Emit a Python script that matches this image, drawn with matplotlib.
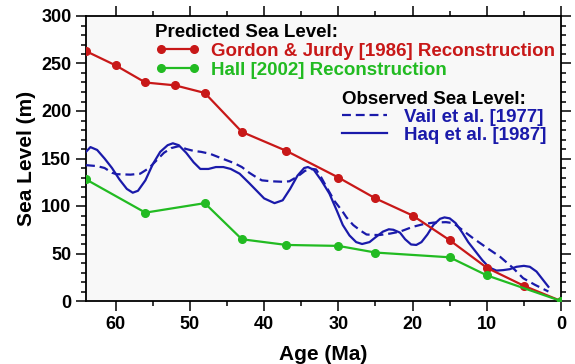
import matplotlib
matplotlib.use("Agg")
import matplotlib.pyplot as plt
from matplotlib.lines import Line2D
from matplotlib.ticker import MultipleLocator

plt.rcParams['font.family'] = ['Liberation Sans', 'DejaVu Sans']
plt.rcParams['font.weight'] = 'bold'

# Gordon & Jurdy [1986] reconstruction
gj_age = [64, 60, 56, 52, 48, 43, 37, 30, 25, 20, 15, 10, 5, 0]
gj_sl = [263, 248, 230, 227, 219, 178, 158, 130, 108, 90, 64, 35, 16, 0]

# Hall [2002] reconstruction
hall_age = [64, 56, 48, 43, 37, 30, 25, 15, 10, 0]
hall_sl = [128, 93, 103, 65, 59, 58, 51, 46, 27, 0]

# Vail et al. [1977]
vail_age = [64, 62.5, 61.5, 60.5, 59.9, 58, 56.7, 55.5, 54.5, 53.5, 52.5, 51.5,
            50.5, 49.5, 48.5, 47.3, 46, 45, 44, 43, 42, 41, 40.3, 39, 37.5,
            36.6, 35.5, 34.5, 33.5, 33, 32.3, 31.6, 30.5, 29.5, 28.9, 28, 27,
            26.2, 25, 24.4, 23, 21.7, 20, 18.5, 17.2, 15.5, 14.5, 13.5, 12, 10,
            8.2, 6.5, 5.1, 3.5, 1.7]
vail_sl = [143, 142, 140, 135, 133.5, 133, 134, 140, 148, 156, 161, 163,
           160, 158, 157, 155, 151, 148, 145, 141, 135, 130, 127, 126, 125.5,
           126, 131, 137, 139, 138.5, 130, 120, 105, 95, 88, 80, 74,
           70, 69.5, 69.5, 71, 73, 78, 81, 82.5, 83, 82, 76, 67, 56,
           46.5, 35, 24, 17, 10]

# Haq et al. [1987]
haq_age = [64, 63.4, 62.5, 61.5, 60.5, 59.5, 58.5, 57.7, 57.0, 56.0, 55.0, 54.0,
           53.0, 52.3, 51.5, 50.5, 49.5, 48.6, 47.5, 46.5, 45.5, 44.5, 43.3, 42,
           41, 40, 38.6, 37.5, 36.5, 35.5, 34.6, 34.1, 33.3, 32.3, 31.2, 30.2,
           29.4, 28.5, 27.6, 26.8, 25.8, 25, 24, 23.2, 22.6, 21.7, 21, 20.2,
           19.5, 18.8, 18, 17.2, 16.3, 15.7, 15, 14.2, 13.3, 12.5, 11.5, 10.6,
           10, 9.3, 8.7, 7.8, 6.9, 6, 5, 4.2, 3.3, 2.5, 1.7]
haq_sl = [157, 162, 159, 150, 140, 128, 118, 114, 116, 127, 144, 157,
          164, 166, 164, 156, 146, 139, 139, 141, 141, 139, 134, 124,
          116, 108, 103, 106, 118, 132, 140, 141, 138, 127, 113, 95,
          80, 69, 62, 60, 62, 67, 73, 75.5, 75, 72, 65, 59.5,
          59, 62, 70, 80, 86.5, 88, 87, 82, 72, 62, 52, 43,
          38, 34, 32, 32.5, 33.5, 36, 37, 36, 31, 23, 15]

red = '#c81818'
green = '#22bb22'
blue = '#1a1aaa'

fig = plt.figure(figsize=(5.75, 3.64), dpi=100)
fig.patch.set_facecolor('white')
ax = fig.add_axes([86/575, 1-301/364, (561-86)/575, (301-16)/364])
ax.set_facecolor('#f8f8f8')

ax.plot(vail_age, vail_sl, color=blue, lw=1.6, ls=(0, (4, 2.2)), zorder=3)
ax.plot(haq_age, haq_sl, color=blue, lw=1.6, zorder=3)
ax.plot(gj_age, gj_sl, color=red, lw=1.6, marker='o', ms=5.5, zorder=4)
ax.plot(hall_age, hall_sl, color=green, lw=1.6, marker='o', ms=5.5, zorder=5)

ax.set_xlim(64, 0)
ax.set_ylim(0, 300)
ax.xaxis.set_major_locator(MultipleLocator(10))
ax.xaxis.set_minor_locator(MultipleLocator(5))
ax.yaxis.set_major_locator(MultipleLocator(50))
ax.yaxis.set_minor_locator(MultipleLocator(10))
ax.tick_params(which='both', direction='out', top=True, right=True,
               labeltop=False, labelright=False, width=1.1, labelsize=13)
ax.tick_params(which='major', length=7)
ax.tick_params(which='minor', length=3.5)
for s in ax.spines.values():
    s.set_linewidth(1.3)
for lab in ax.get_xticklabels() + ax.get_yticklabels():
    lab.set_fontweight('bold')

ax.set_xlabel('Age (Ma)', fontsize=15, fontweight='bold', labelpad=9)
ax.set_ylabel('Sea Level (m)', fontsize=15, fontweight='bold', labelpad=4)

fs = 13.5
h1 = [Line2D([0, 1], [0, 0], color=red, lw=1.6, marker='o', ms=5.5),
      Line2D([0, 1], [0, 0], color=green, lw=1.6, marker='o', ms=5.5)]
leg1 = ax.legend(h1, ['Gordon & Jurdy [1986] Reconstruction', 'Hall [2002] Reconstruction'],
                 loc='upper left', bbox_to_anchor=(0.145, 0.972), frameon=False,
                 prop={'size': fs, 'weight': 'bold'}, handlelength=2.4,
                 handletextpad=0.6, labelspacing=0.1, borderpad=0, borderaxespad=0,
                 title='Predicted Sea Level:', title_fontproperties={'size': fs, 'weight': 'bold'},
                 alignment='left', numpoints=2)
for t, c in zip(leg1.get_texts(), [red, green]):
    t.set_color(c)
ax.add_artist(leg1)

h2 = [Line2D([], [], color=blue, lw=1.6, ls=(0, (4, 2.2))),
      Line2D([], [], color=blue, lw=1.6)]
leg2 = ax.legend(h2, ['Vail et al. [1977]', 'Haq et al. [1987]'],
                 loc='upper left', bbox_to_anchor=(0.539, 0.738), frameon=False,
                 prop={'size': fs, 'weight': 'bold'}, handlelength=2.4,
                 handletextpad=0.9, labelspacing=0.05, borderpad=0, borderaxespad=0,
                 title='Observed Sea Level:', title_fontproperties={'size': fs, 'weight': 'bold'},
                 alignment='left')
for t in leg2.get_texts():
    t.set_color(blue)

fig.savefig('out.png', dpi=100)
